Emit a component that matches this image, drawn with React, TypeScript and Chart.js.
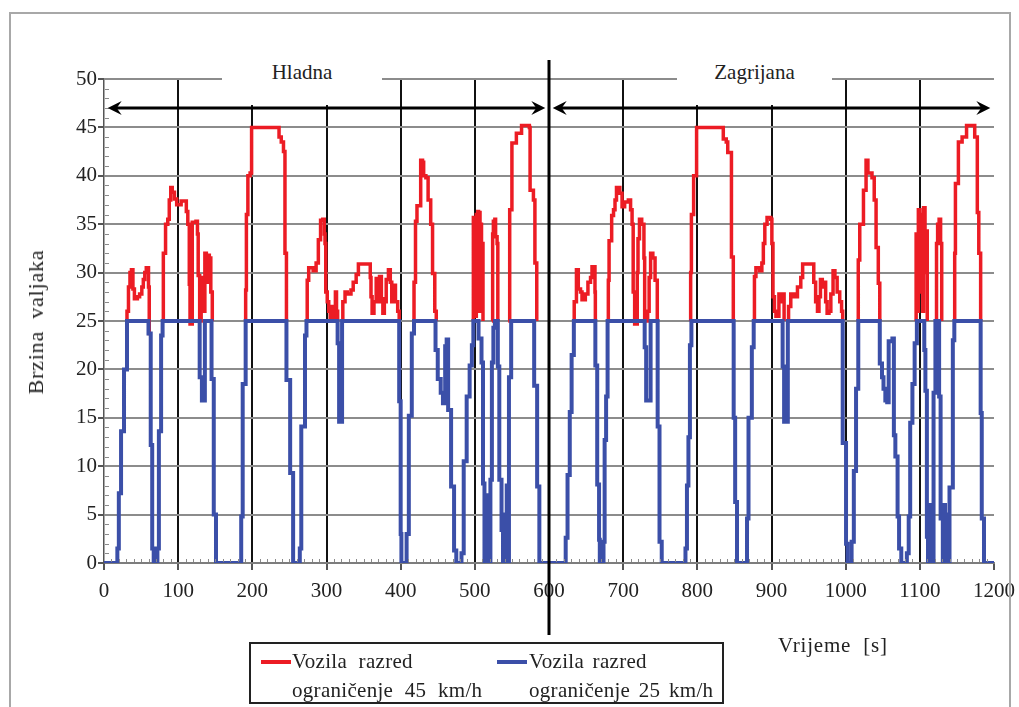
import React, { useEffect, useRef } from 'react';
import { Chart, registerables } from 'chart.js';

Chart.register(...registerables);

// ---- axis ticks ----
const X_TICKS = [0, 100, 200, 300, 400, 500, 600, 700, 800, 900, 1000, 1100, 1200];
const Y_TICKS = [0, 5, 10, 15, 20, 25, 30, 35, 40, 45, 50];

// ---- phase labels ----
const PHASES = ['Hladna', 'Zagrijana'];

// ---- legend labels ----
const SERIES_RED_LABEL = ['Vozila razred', 'ograničenje 45 km/h'];
const SERIES_BLUE_LABEL = ['Vozila razred', 'ograničenje 25 km/h'];

// ---- series: vehicles limited to 45 km/h (only the parts above 25, null = gap) ----
const redTime = [
  30, 31, 33, 35, 37, 39, 41, 45, 48, 51, 53, 55, 57, 60, 61, 63, 63,
  78, 80, 83, 86, 88, 90, 92, 95, 98, 104, 111, 113, 115, 116, 119, 124, 126, 127, 129, 131, 134, 136, 138, 140, 142, 144, 146, 146,
  190, 191, 192, 194, 197, 199, 235, 236, 239, 242, 244, 246, 246,
  273, 274, 276, 282, 286, 289, 292, 295, 297, 298, 299, 301, 303, 305, 307, 309, 312, 313.5, 315, 315,
  321, 322, 325, 328, 333, 336, 340, 343, 357, 359, 360, 361.5, 364, 367, 369, 371.5, 374, 376, 378, 380.5, 383.5, 386, 388, 390, 393, 396, 398, 398,
  417, 418, 420, 422, 427, 429.5, 431, 434, 437, 440.5, 443, 446, 448, 448,
  497, 498, 499, 500, 501, 502, 503, 504, 505, 506, 507, 508, 509, 510, 511, 511,
  523, 524, 525, 527, 528, 530, 531, 531,
  545, 547, 550, 556, 563, 572, 573.5, 574.5, 579, 581, 583.5, 583.5,
  633, 634, 637, 639.5, 642.5, 644.5, 649, 652.5, 656, 658, 662, 662.5, 662.5,
  679, 680, 681, 684.5, 687, 689, 691, 695.5, 698.5, 702, 707, 710, 712, 713.5, 715.5, 719, 720, 722, 725, 728, 729, 733, 735, 737, 740, 743, 746, 746,
  790, 791, 792, 795, 799, 833, 835, 839, 841, 846, 848.5, 848.5,
  876, 877, 879, 884, 887, 889, 891, 894, 899, 900.5, 902, 904, 906, 910, 912.5, 915, 917, 917,
  922, 923, 926, 930.5, 935, 939.5, 942, 955, 957, 959.5, 962, 964, 966, 968.5, 971, 973, 975, 977.5, 980, 983, 985.5, 988.5, 992, 994.5, 996, 996,
  1016, 1017, 1019, 1024, 1027.5, 1030, 1035.5, 1038.5, 1041, 1044, 1046, 1046,
  1094, 1095, 1097, 1098, 1100, 1101, 1103, 1104, 1105, 1107, 1108, 1110, 1110,
  1121, 1122.5, 1124, 1126, 1128, 1129.5, 1129.5,
  1146, 1147, 1148, 1152, 1157, 1163, 1172, 1174, 1177.5, 1179.5, 1182, 1182,
];
const redSpeed = [
  25, 26, 28.5, 30, 30.3, 28.3, 27.3, 27.5, 27.8, 28.5, 29.3, 30, 30.5, 28.5, 23.7, 23.7, null,
  25, 32, 35, 35.5, 37.5, 38.8, 38.3, 37.6, 37, 37.4, 36.3, 35, 28.8, 24.7, 35.2, 35.3, 34, 29.7, 25, 29.5, 26, 32, 29, 31.8, 31.5, 28, 25, null,
  25, 28.2, 36, 40, 40.3, 45, 45, 44, 43.5, 42.5, 32, 25, null,
  25, 29.2, 30.5, 30.2, 31, 33.4, 35.4, 35.5, 34, 33, 28, 27, 26, 25.3, 26.5, 25.3, 28, 26, 25, null,
  25, 27, 28, 27.8, 28.2, 29, 29.8, 30.9, 30.9, 29.5, 27.5, 25.8, 27, 29.4, 27, 29.6, 27.3, 25.8, 27, 29.3, 30.3, 29, 27, 28.7, 27, 26, 25, null,
  25, 29, 35.3, 36.9, 41.6, 41.4, 40, 39.8, 37.5, 35, 29.9, 26, 25, null,
  25, 35.7, 26, 33, 25.5, 36, 27, 36.3, 26, 36.2, 30, 35, 26, 33, 25, null,
  25, 34, 35.3, 35.5, 33.7, 33, 25, null,
  25, 36.5, 43.4, 44.4, 45.2, 45.2, 45, 38.5, 37.5, 31, 25, null,
  25, 27, 30.3, 28.3, 28, 27.2, 27.8, 29, 29.5, 30.6, 28, 25, null,
  25, 29.2, 33.3, 35.9, 36.5, 37.5, 38.8, 38.2, 36.8, 37.3, 37.5, 36.5, 35, 28, 24.7, 30, 33.5, 35.5, 35, 31.5, 25, 26, 29.5, 32, 31.5, 29.2, 25, null,
  25, 30, 36, 40, 45, 45, 43.8, 43.5, 42.4, 31.6, 25, null,
  25, 29.6, 30.5, 30.2, 31, 33, 35, 35.7, 35.5, 33, 27.5, 26, 25.5, 27.8, 27, 27.8, 25, null,
  25, 26.5, 27.8, 27.5, 28.5, 29.5, 30.9, 30.9, 29, 27, 26, 27.5, 29.3, 28.5, 29, 27, 25.8, 26, 27.8, 30.2, 29.5, 28, 27, 26, 25, null,
  25, 31.3, 35, 38.5, 41.6, 40.3, 39.8, 37.5, 32.6, 28.9, 25, null,
  25, 34, 26, 36.5, 28, 36, 33, 26, 36.7, 30, 34.3, 25, null,
  25, 33, 35, 35.5, 33, 25, null,
  25, 32, 39.2, 43.5, 44, 45.2, 45.2, 44, 36.2, 32, 25, null,
];

// ---- series: vehicles limited to 25 km/h ----
const blueTime = [
  0, 18, 20, 23, 27, 31, 60, 63, 65, 67, 72, 74, 77, 79, 129, 132, 136, 145, 148, 151,
  185, 187, 191, 246, 251, 255, 264, 266, 271, 273, 315, 317, 321,
  398, 400, 401, 408, 411, 415, 418, 447, 450, 454, 457, 460, 462, 464, 468, 472, 475,
  482, 485, 489, 493, 496, 498, 505, 509, 511, 513, 515, 516, 518, 519, 521, 523, 525, 527,
  531, 533, 536, 538, 540, 541, 543, 544, 546, 549, 580, 584, 587,
  622.5, 625, 628, 630.5, 633.5, 662.5, 665, 667.5, 668.5, 673.5, 675, 677, 679,
  729, 731, 737, 746.5, 749, 752, 784, 786, 788, 790, 792, 849, 851, 853.5,
  867, 869, 873.5, 876, 915, 917, 922, 996, 1000.5, 1002.5, 1008, 1011, 1014, 1017,
  1046, 1049, 1051, 1053.5, 1056, 1058, 1063, 1065, 1067, 1070, 1072, 1075,
  1082.5, 1085, 1087, 1090, 1093, 1096, 1106, 1107.5, 1109.5, 1111, 1113, 1114, 1116, 1117,
  1118.5, 1121, 1126, 1128, 1131, 1133, 1134, 1136, 1137, 1140, 1144.5, 1146.5,
  1182, 1183.5, 1186.5, 1200,
];
const blueSpeed = [
  0, 1.5, 7.2, 13.6, 20, 25, 23.7, 12.2, 1.5, 0, 1.5, 13.6, 23.5, 25, 19.2, 16.8, 25, 19, 5, 0,
  4.8, 18.5, 25, 18.9, 9.3, 0, 1.5, 14.1, 23.5, 25, 22.7, 14.6, 25,
  16.7, 3, 0, 3, 15.2, 23.7, 25, 22, 19, 17.6, 16.5, 22.4, 23.1, 15.8, 7.9, 1.3, 0,
  1, 10.5, 17.2, 20.4, 22.5, 25, 23.2, 20.7, 8.2, 0, 6, 0, 7, 0, 8.6, 20.7, 24.3, 25,
  20.3, 8.6, 3.4, 0, 5, 0, 8, 0, 19.2, 25, 18.3, 7.9, 0,
  2.6, 9.1, 15.6, 21.5, 25, 20.4, 8.1, 2.4, 0, 2.2, 12.7, 17.2, 25,
  22.3, 16.8, 25, 14.1, 2.2, 0, 1.5, 8, 13, 22.5, 25, 15, 6.3, 0,
  4.6, 15, 22.3, 25, 20.3, 14.6, 25, 12.4, 2, 0, 2.2, 9.5, 18, 25,
  20.6, 19.2, 18, 16.8, 16.6, 22.9, 23.2, 13.2, 11, 4.8, 1.5, 0,
  1, 4.8, 14.5, 18.5, 22.7, 25, 22, 17.8, 2.7, 0, 6, 0, 5, 0,
  17.6, 25, 17.2, 4.6, 0, 6, 0, 5, 0, 7.8, 23, 25,
  15.5, 4.6, 0, 0,
];

const RED = '#ec1c24';
const BLUE = '#3b4fa8';
const FONT = '"Liberation Serif", "Times New Roman", serif';

const decor = {
  id: 'decor',
  afterDraw(chart: any) {
    const { ctx, chartArea, scales } = chart;
    const { left, bottom } = chartArea;
    const x = scales.x;
    const y = scales.y;
    const seg = (x1: number, y1: number, x2: number, y2: number) => {
      ctx.beginPath();
      ctx.moveTo(x1, y1);
      ctx.lineTo(x2, y2);
      ctx.stroke();
    };
    ctx.save();
    // minor ticks on y axis
    ctx.strokeStyle = '#8a8a8a';
    ctx.lineWidth = 1;
    for (let v = 1; v < 50; v++) {
      if (v % 5 === 0) continue;
      const py = Math.round(y.getPixelForValue(v)) + 0.5;
      seg(left + 1, py, left + 5, py);
    }
    // minor ticks on x axis
    for (let t = 10; t < 1200; t += 10) {
      if (t % 100 === 0) continue;
      const px = Math.round(x.getPixelForValue(t)) + 0.5;
      seg(px, bottom - 4, px, bottom - 1);
    }
    // thick divider at 600 s
    const xd = x.getPixelForValue(600);
    ctx.strokeStyle = '#000';
    ctx.lineWidth = 3;
    seg(xd, 60, xd, 635);
    // arrows
    const ay = y.getPixelForValue(47);
    const head = (tip: number, dir: number) => {
      ctx.beginPath();
      ctx.moveTo(tip, ay);
      ctx.lineTo(tip + dir * 14, ay - 7);
      ctx.lineTo(tip + dir * 9, ay);
      ctx.lineTo(tip + dir * 14, ay + 7);
      ctx.closePath();
      ctx.fill();
    };
    ctx.fillStyle = '#000';
    ctx.lineWidth = 3;
    const spans = [[5, 595], [605, 1195]];
    spans.forEach(([a, b]) => {
      const xa = x.getPixelForValue(a);
      const xb = x.getPixelForValue(b);
      seg(xa + 8, ay, xb - 8, ay);
      head(xa, 1);
      head(xb, -1);
    });
    ctx.restore();
  },
};

export default function App() {
  const ref = useRef<HTMLCanvasElement>(null);
  useEffect(() => {
    const redData = redTime.map((t, i) => ({ x: t, y: redSpeed[i] }));
    const blueData = blueTime.map((t, i) => ({ x: t, y: blueSpeed[i] }));
    const chart = new Chart(ref.current as HTMLCanvasElement, {
      type: 'line',
      data: {
        datasets: [
          {
            label: 'Vozila razred ograničenje 25 km/h',
            data: blueData as any,
            borderColor: BLUE,
            borderWidth: 4,
            stepped: true,
            pointRadius: 0,
            fill: false,
            order: 0,
          },
          {
            label: 'Vozila razred ograničenje 45 km/h',
            data: redData as any,
            borderColor: RED,
            borderWidth: 3.5,
            stepped: true,
            pointRadius: 0,
            fill: false,
            spanGaps: false,
            order: 1,
          },
        ],
      },
      options: {
        responsive: false,
        animation: false,
        devicePixelRatio: 1,
        layout: { padding: { left: 0, right: 25, top: 79, bottom: 0 } },
        plugins: {
          legend: { display: false },
          tooltip: { enabled: false },
        },
        scales: {
          x: {
            type: 'linear',
            min: 0,
            max: 1200,
            afterFit: (s: any) => {
              s.height = 144;
              s.paddingLeft = 0;
              s.paddingRight = 0;
            },
            afterBuildTicks: (s: any) => {
              s.ticks = X_TICKS.map((v) => ({ value: v }));
            },
            ticks: {
              autoSkip: false,
              maxRotation: 0,
              padding: 9,
              color: '#222',
              font: { family: FONT, size: 21 },
              callback: (v: any) => String(v),
            },
            grid: {
              color: (c: any) =>
                c.tick && (c.tick.value === 600 || c.tick.value === 1200 || c.tick.value === 0)
                  ? 'rgba(0,0,0,0)'
                  : '#111',
              lineWidth: 2,
              tickLength: 7,
              tickColor: '#555',
            },
            border: { display: true, color: '#7d7d7d', width: 2 },
          },
          y: {
            min: 0,
            max: 50,
            afterFit: (s: any) => {
              s.width = 104;
              s.paddingTop = 0;
              s.paddingBottom = 0;
            },
            afterBuildTicks: (s: any) => {
              s.ticks = Y_TICKS.map((v) => ({ value: v }));
            },
            ticks: {
              padding: 1,
              color: '#222',
              font: { family: FONT, size: 21 },
              callback: (v: any) => String(v),
            },
            grid: {
              color: '#8c8c8c',
              lineWidth: 2,
              tickLength: 6,
              tickColor: '#555',
            },
            border: { display: true, color: '#555', width: 1.5 },
          },
        },
      },
      plugins: [decor],
    });
    return () => chart.destroy();
  }, []);

  const txt: React.CSSProperties = { fontFamily: FONT, fontSize: 20, color: '#222', whiteSpace: 'pre' };

  return (
    <div
      style={{
        position: 'fixed',
        left: 0,
        top: 0,
        width: 1019,
        height: 707,
        overflow: 'hidden',
        background: '#fff',
      }}
    >
      <canvas
        ref={ref}
        width={1019}
        height={707}
        style={{ position: 'absolute', left: 0, top: 0, width: 1019, height: 707 }}
      />
      {/* outer frame */}
      <div
        style={{
          position: 'absolute',
          left: 9,
          top: 12,
          width: 1002,
          height: 760,
          border: '2px solid #a8a8a8',
          boxSizing: 'border-box',
          pointerEvents: 'none',
        }}
      />
      {/* phase labels */}
      <div
        style={{
          ...txt,
          position: 'absolute',
          left: 222,
          top: 60,
          width: 160,
          height: 45,
          background: '#fff',
          textAlign: 'center',
          lineHeight: '24px',
          fontSize: 21,
        }}
      >
        {PHASES[0]}
      </div>
      <div
        style={{
          ...txt,
          position: 'absolute',
          left: 677,
          top: 60,
          width: 155,
          height: 45,
          background: '#fff',
          textAlign: 'center',
          lineHeight: '24px',
          fontSize: 21,
        }}
      >
        {PHASES[1]}
      </div>
      {/* y axis title */}
      <div
        style={{
          ...txt,
          position: 'absolute',
          left: 36,
          top: 322,
          transform: 'translate(-50%, -50%) rotate(-90deg)',
          fontSize: 22,
          letterSpacing: 0.8,
          wordSpacing: 6,
        }}
      >
        Brzina valjaka
      </div>
      {/* x axis title */}
      <div
        style={{
          ...txt,
          position: 'absolute',
          left: 778,
          top: 632,
          lineHeight: '26px',
          fontSize: 21,
          letterSpacing: 0.8,
          wordSpacing: 6,
        }}
      >
        Vrijeme [s]
      </div>
      {/* legend */}
      <div
        style={{
          position: 'absolute',
          left: 249,
          top: 642,
          width: 475,
          height: 62,
          border: '2px solid #222',
          boxSizing: 'border-box',
          background: '#fff',
        }}
      >
        <div style={{ position: 'absolute', left: 10, top: 16, width: 30, height: 4, background: RED }} />
        <div style={{ ...txt, position: 'absolute', left: 41, top: 3, lineHeight: '29px', fontSize: 21, wordSpacing: 6, letterSpacing: 0.3 }}>
          {SERIES_RED_LABEL[0]}
          <br />
          {SERIES_RED_LABEL[1]}
        </div>
        <div style={{ position: 'absolute', left: 246, top: 16, width: 30, height: 4, background: BLUE }} />
        <div style={{ ...txt, position: 'absolute', left: 278, top: 3, lineHeight: '29px', fontSize: 21, wordSpacing: 3, letterSpacing: 0.3 }}>
          {SERIES_BLUE_LABEL[0]}
          <br />
          {SERIES_BLUE_LABEL[1]}
        </div>
      </div>
    </div>
  );
}
